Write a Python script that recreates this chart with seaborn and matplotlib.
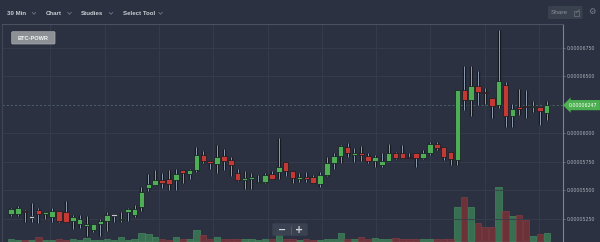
import numpy as np
import pandas as pd
import matplotlib
matplotlib.use("Agg")
import matplotlib.pyplot as plt
import seaborn as sns
from matplotlib.patches import FancyBboxPatch, Rectangle
from matplotlib.ticker import FuncFormatter, FixedLocator

# ---------------- data (prices in 1e-8 BTC) ----------------
open_ = [5294, 5296, 5323, 5263, 5329, 5294, 5270, 5317, 5309, 5230,
         5204, 5191, 5151, 5204, 5235, 5279, 5241, 5309, 5285, 5358,
         5519, 5548, 5591, 5600, 5591, 5679, 5640, 5676, 5810, 5760,
         5735, 5802, 5764, 5655, 5594, 5603, 5565, 5577, 5641, 5659,
         5749, 5673, 5600, 5615, 5618, 5559, 5638, 5743, 5805, 5883,
         5810, 5826, 5805, 5761, 5720, 5758, 5826, 5826, 5796, 5826,
         5784, 5831, 5904, 5878, 5839, 5769, 6377, 6289, 6412, 6365,
         6312, 6246, 6421, 6155, 6228, 6240, 6228, 6233, 6181]
close_ = [5338, 5346, 5309, 5263, 5296, 5309, 5323, 5230, 5224, 5265,
          5250, 5204, 5204, 5235, 5285, 5279, 5253, 5338, 5338, 5486,
          5556, 5591, 5568, 5559, 5641, 5655, 5679, 5810, 5758, 5738,
          5796, 5760, 5720, 5591, 5609, 5618, 5577, 5638, 5603, 5703,
          5673, 5612, 5615, 5598, 5565, 5638, 5740, 5805, 5887, 5826,
          5826, 5810, 5758, 5790, 5758, 5826, 5787, 5787, 5782, 5782,
          5831, 5904, 5875, 5790, 5773, 6377, 6289, 6412, 6362, 6353,
          6240, 6458, 6155, 6213, 6213, 6228, 6240, 6198, 6247]
high_ = [5349, 5361, 5326, 5390, 5346, 5310, 5344, 5319, 5405, 5282,
         5285, 5274, 5205, 5250, 5311, 5280, 5309, 5344, 5373, 5533,
         5641, 5679, 5650, 5679, 5685, 5681, 5692, 5883, 5848, 5762,
         5898, 5863, 5790, 5685, 5670, 5655, 5633, 5655, 5670, 5957,
         5751, 5674, 5655, 5662, 5638, 5662, 5790, 5826, 5898, 5916,
         5869, 5889, 5826, 5813, 5826, 5904, 5839, 5898, 5831, 5827,
         5854, 5924, 5924, 5879, 5840, 6378, 6590, 6590, 6546, 6395,
         6313, 6905, 6452, 6254, 6386, 6380, 6283, 6234, 6283]
low_ = [5276, 5279, 5226, 5226, 5218, 5253, 5226, 5226, 5222, 5162,
        5174, 5104, 5139, 5104, 5148, 5226, 5226, 5235, 5270, 5320,
        5495, 5545, 5519, 5504, 5501, 5563, 5596, 5664, 5740, 5688,
        5650, 5679, 5624, 5585, 5513, 5515, 5563, 5568, 5597, 5603,
        5629, 5568, 5574, 5574, 5563, 5527, 5629, 5688, 5738, 5796,
        5752, 5761, 5738, 5705, 5705, 5755, 5773, 5786, 5780, 5705,
        5778, 5810, 5852, 5764, 5725, 5725, 6204, 6155, 6246, 6257,
        6137, 6219, 6056, 6056, 6158, 6137, 6190, 6071, 6117]
volume = [0.15, 0.10, 0.10, 0.10, 0.34, 0.10, 0.10, 0.15, 0.10, 0.15,
          0.10, 0.27, 0.10, 0.10, 0.15, 0.10, 0.34, 0.10, 0.15, 0.80,
          0.64, 0.34, 0.15, 0.10, 0.40, 0.15, 0.20, 1.07, 0.57, 0.20,
          0.34, 0.15, 0.20, 0.15, 0.20, 0.15, 0.10, 0.20, 0.20, 1.14,
          0.20, 0.15, 0.10, 0.15, 0.10, 0.10, 0.15, 0.20, 0.80, 0.20,
          0.15, 0.34, 0.20, 0.30, 0.20, 0.15, 0.25, 0.20, 0.15, 0.15,
          0.15, 0.20, 0.20, 0.20, 0.15, 3.34, 4.34, 3.40, 1.80, 1.40,
          1.40, 5.40, 2.97, 2.47, 2.57, 2.07, 0.50, 0.67, 0.74]
price_ticks = [5250, 5500, 5750, 6000, 6500, 6750]
market = "BTC-POWR"
menu_items = ["30 Min", "Chart", "Studies", "Select Tool"]

# ---------------- style ----------------
BG = "#2b3140"
GRID = "#363e4d"
UP = "#4fae55"
DOWN = "#c23a33"
DOJI = "#c5c9cf"
WICK = "#8f9cb0"
DARK = "#151a23"
TXT = "#c9cdd3"

sns.set_theme(style="dark", rc={"axes.facecolor": BG, "figure.facecolor": BG,
                                "axes.edgecolor": BG, "grid.color": GRID})
plt.rcParams["font.family"] = ["DejaVu Sans"]

S = 1e-8
o = np.array(open_) * S
c = np.array(close_) * S
h = np.array(high_) * S
l = np.array(low_) * S
n = len(o)
idx = np.arange(n)
direction = np.where(c > o, "up", np.where(c < o, "down", "flat"))

fig = plt.figure(figsize=(6, 2.42), dpi=100)
ax_vol = fig.add_axes([2 / 600, 0, 561 / 600, 218 / 242])
ax_vol.set_facecolor(BG)

# volume bars (seaborn)
vdf = pd.DataFrame({"idx": idx, "volume": volume,
                    "dir": np.where(direction == "down", "down", "up")})
sns.barplot(data=vdf, x="idx", y="volume", hue="dir",
            palette={"up": "#386e51", "down": "#6c3238"},
            dodge=False, native_scale=True, width=0.92, saturation=1,
            legend=False, errorbar=None, ax=ax_vol, zorder=1)
for p in ax_vol.patches:
    fc = p.get_facecolor()
    p.set_edgecolor("#478c5f" if fc[1] > fc[0] else "#873e45")
    p.set_linewidth(0.45)

ax_vol.set_ylim(-0.13, 21.67)
ax_vol.set_yticks([])
ax_vol.set_xlabel("")
ax_vol.set_ylabel("")
grid_x = 5.75 + 7.9 * np.arange(10)
ax_vol.xaxis.set_major_locator(FixedLocator(grid_x))
ax_vol.tick_params(axis="x", length=0, labelbottom=False)
ax_vol.grid(axis="x", color=GRID, lw=0.6)
ax_vol.grid(axis="y", visible=False)
ax_vol.set_axisbelow(True)
for sp in ax_vol.spines.values():
    sp.set_visible(False)

# price axis
ax = ax_vol.twinx()
ax.set_ylim(5048.5 * S, 6957.5 * S)
ax.yaxis.set_major_locator(FixedLocator([t * S for t in price_ticks]))
ax.yaxis.set_major_formatter(FuncFormatter(lambda v, p: f"{v:.8f}"))
ax.tick_params(axis="y", right=True, length=1.6, width=0.5, color="#7d848f",
               pad=1.2, labelsize=3.4, labelcolor="#a9afb8")
ax.grid(axis="y", color=GRID, lw=0.6)
ax.grid(axis="x", visible=False)
ax.set_axisbelow(True)
for name, sp in ax.spines.items():
    sp.set_visible(True)
    sp.set_linewidth(0.8)
ax.spines["right"].set_color("#7d848f")
ax.spines["top"].set_color("#4a5262")
ax.spines["left"].set_color("#3f4756")
ax.spines["bottom"].set_visible(False)

# candles
ax.vlines(idx, l, h, colors=DARK, lw=2.4, zorder=3)
ax.vlines(idx, l, h, colors=WICK, lw=0.7, zorder=4)
min_body = 12 * S
body_lo = np.minimum(o, c)
body_h = np.maximum(np.abs(c - o), min_body)
cols = [UP if d == "up" else DOWN if d == "down" else DOJI for d in direction]
ax.bar(idx, body_h, bottom=body_lo, width=0.8, color=cols,
       edgecolor=DARK, linewidth=0.5, zorder=5)

last = c[-1]
ax.axhline(last, color="#4e6c70", lw=0.6, ls=(0, (2.5, 2.5)), zorder=2)
ax.annotate(f"{last:.8f}", xy=(1.0, last), xycoords=("axes fraction", "data"),
            xytext=(4.2, 0), textcoords="offset points", ha="left", va="center",
            fontsize=3.4, color="white", annotation_clip=False, zorder=20,
            bbox=dict(boxstyle="larrow,pad=0.55", fc="#4caf50", ec="none"))

ax.set_xlim(-1.31, 80.37)
ax_vol.set_xlim(-1.31, 80.37)

# ---------------- overlay (pixel coordinates) ----------------
ov = fig.add_axes([0, 0, 1, 1], zorder=10)
ov.set_xlim(0, 600)
ov.set_ylim(242, 0)
ov.axis("off")
ov.patch.set_visible(False)

ov.add_patch(Rectangle((0, 0), 600, 23.6, fc=BG, ec="none"))
menu_x = [6.7, 45.5, 81, 123.3]
chev_x = [34, 69.5, 111, 160.5]
for t, x0, cx in zip(menu_items, menu_x, chev_x):
    ov.text(x0, 13.3, t, fontsize=4.4, fontweight="bold", color=TXT,
            family=["Liberation Sans", "DejaVu Sans"], ha="left", va="center")
    ov.plot([cx - 1.8, cx, cx + 1.8], [12.3, 14.3, 12.3], color="#6f7682",
            lw=0.6, solid_capstyle="round")

# Share button + gear
ov.add_patch(FancyBboxPatch((548, 6), 34.5, 13, boxstyle="round,pad=0,rounding_size=1.5",
                            fc="#3a414e", ec="none"))
ov.text(551, 12.7, "Share", fontsize=4.6, color="#8b919b",
        family=["Liberation Sans", "DejaVu Sans"], ha="left", va="center")
ov.add_patch(Rectangle((573.5, 10.5), 5, 5, fill=False, ec="#6f7682", lw=0.5))
ov.plot([576, 579.5], [13, 9.5], color="#6f7682", lw=0.5)
ov.text(591.6, 11.8, "\u2699", fontsize=6, color="#7a818c",
        family=["DejaVu Sans"], ha="center", va="center")

# market label
ov.add_patch(FancyBboxPatch((11.7, 31.7), 43.3, 12.3, boxstyle="round,pad=0,rounding_size=1",
                            fc="#8d9196", ec="#a7abb0", lw=0.5))
ov.text(33.4, 38.1, market, fontsize=4.1, fontweight="bold", color="#f2f2f2",
        family=["Liberation Sans", "DejaVu Sans"], ha="center", va="center")

# zoom control
ov.add_patch(FancyBboxPatch((272.3, 223.3), 35.4, 12.5, boxstyle="round,pad=0,rounding_size=1.5",
                            fc="#3b4352", ec="none", alpha=0.95))
ov.text(281.7, 229.6, "\u2212", fontsize=7, fontweight="bold", color="#d2d5da",
        ha="center", va="center")
ov.plot([290.7, 290.7], [225.5, 233.5], color="#56606e", lw=0.6)
ov.text(299.3, 229.6, "+", fontsize=7, fontweight="bold", color="#d2d5da",
        ha="center", va="center")

fig.savefig("out.png", dpi=100, facecolor=BG)
